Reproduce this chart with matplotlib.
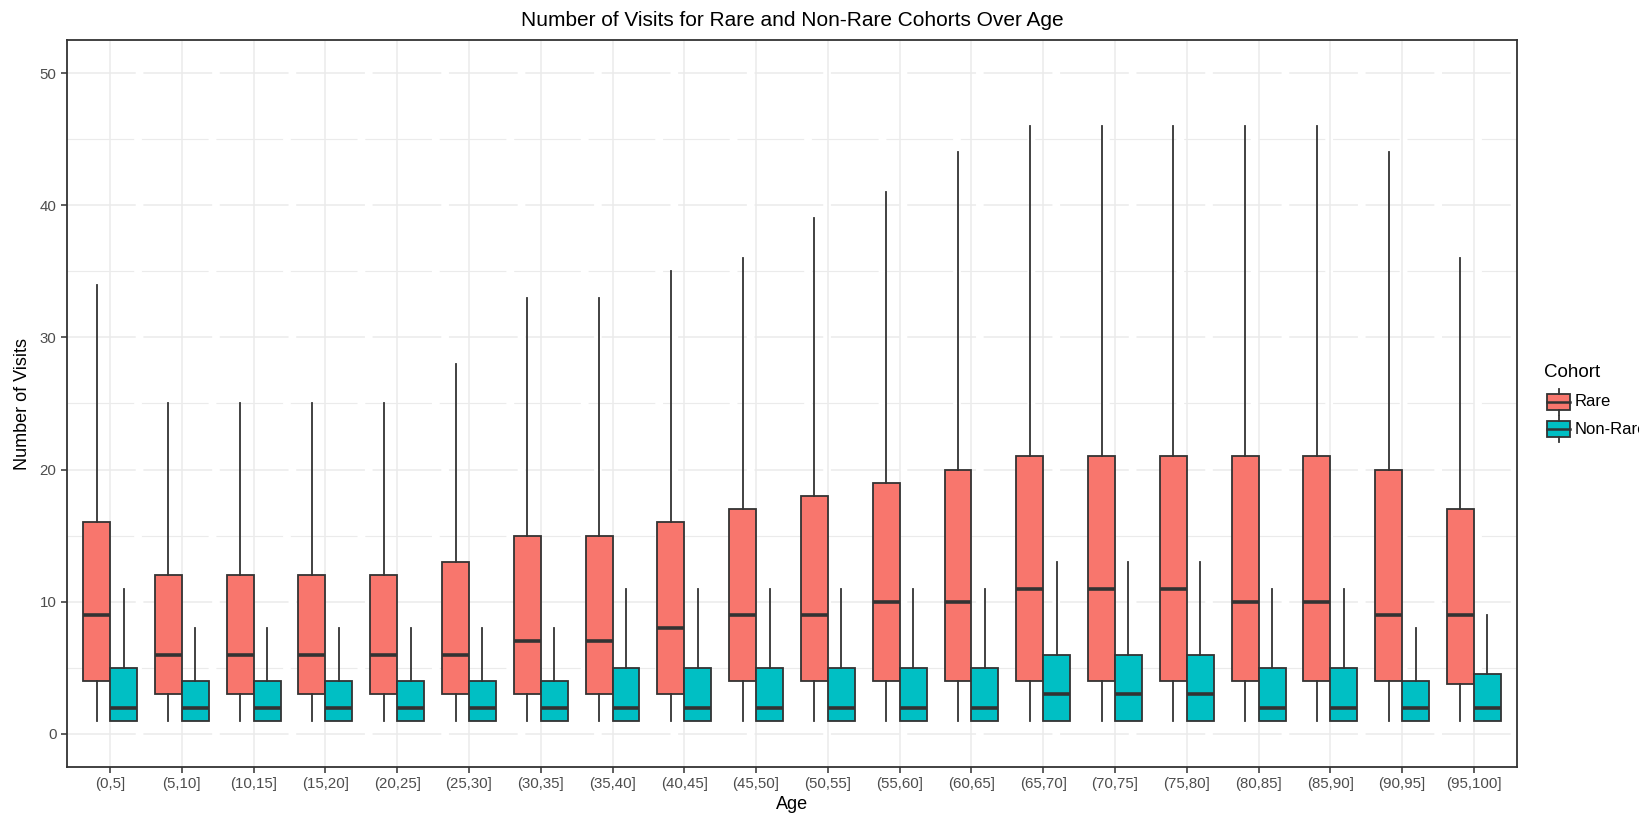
import matplotlib.pyplot as plt
import numpy as np
from matplotlib.patches import Rectangle

plt.rcParams['font.family'] = ['Liberation Sans', 'DejaVu Sans']

ages = ["(0,5]", "(5,10]", "(10,15]", "(15,20]", "(20,25]", "(25,30]", "(30,35]",
        "(35,40]", "(40,45]", "(45,50]", "(50,55]", "(55,60]", "(60,65]", "(65,70]",
        "(70,75]", "(75,80]", "(80,85]", "(85,90]", "(90,95]", "(95,100]"]

# Rare cohort: lower whisker, q1, median, q3, upper whisker
rare_lo = [1] * 20
rare_q1 = [4, 3, 3, 3, 3, 3, 3, 3, 3, 4, 4, 4, 4, 4, 4, 4, 4, 4, 4, 3.75]
rare_med = [9, 6, 6, 6, 6, 6, 7, 7, 8, 9, 9, 10, 10, 11, 11, 11, 10, 10, 9, 9]
rare_q3 = [16, 12, 12, 12, 12, 13, 15, 15, 16, 17, 18, 19, 20, 21, 21, 21, 21, 21, 20, 17]
rare_hi = [34, 25, 25, 25, 25, 28, 33, 33, 35, 36, 39, 41, 44, 46, 46, 46, 46, 46, 44, 36]

# Non-Rare cohort
non_lo = [1] * 20
non_q1 = [1] * 20
non_med = [2, 2, 2, 2, 2, 2, 2, 2, 2, 2, 2, 2, 2, 3, 3, 3, 2, 2, 2, 2]
non_q3 = [5, 4, 4, 4, 4, 4, 4, 5, 5, 5, 5, 5, 5, 6, 6, 6, 5, 5, 4, 4.5]
non_hi = [11, 8, 8, 8, 8, 8, 8, 11, 11, 11, 11, 11, 11, 13, 13, 13, 11, 11, 8, 9]

rare_col = "#F8766D"
non_col = "#00BFC4"
edge = "#333333"


def make_stats(lo, q1, med, q3, hi):
    return [dict(whislo=a, q1=b, med=c, q3=d, whishi=e, fliers=[])
            for a, b, c, d, e in zip(lo, q1, med, q3, hi)]


fig = plt.figure(figsize=(16.39, 8.17), dpi=100)
ax = fig.add_axes([67 / 1639, 1 - 767 / 817, 1450 / 1639, 727 / 817])

x = np.arange(len(ages))
w = 0.375

# grid
for v in np.arange(0, 51, 10):
    ax.axhline(v, color="#EBEBEB", lw=1.1, ls=(0, (45, 5)), zorder=0)
for v in np.arange(5, 50, 10):
    ax.axhline(v, color="#EBEBEB", lw=0.8, ls=(0, (60, 7)), zorder=0)
for xi in x:
    ax.axvline(xi, color="#EBEBEB", lw=1.1, zorder=0)

for stats, off, col in [(make_stats(rare_lo, rare_q1, rare_med, rare_q3, rare_hi), -w / 2, rare_col),
                        (make_stats(non_lo, non_q1, non_med, non_q3, non_hi), w / 2, non_col)]:
    ax.bxp(stats, positions=x + off, widths=w, showcaps=False, showfliers=False,
           patch_artist=True, manage_ticks=False,
           boxprops=dict(facecolor=col, edgecolor=edge, linewidth=1.3),
           whiskerprops=dict(color=edge, linewidth=1.3),
           medianprops=dict(color=edge, linewidth=2.6, solid_capstyle="butt"))

ax.set_xlim(-0.6, len(ages) - 0.4)
ax.set_ylim(-2.5, 52.5)
ax.set_xticks(x)
ax.set_xticklabels(ages)
ax.set_yticks(np.arange(0, 51, 10))
ax.tick_params(axis="both", colors="#333333", labelcolor="#4D4D4D", labelsize=10.8,
               length=4, width=1.1)
for s in ax.spines.values():
    s.set_color("#333333")
    s.set_linewidth(1.3)

ax.set_xlabel("Age", fontsize=13, labelpad=3)
ax.set_ylabel("Number of Visits", fontsize=13, labelpad=6)
ax.set_title("Number of Visits for Rare and Non-Rare Cohorts Over Age", fontsize=15, pad=10)

# legend
fig.text(1544 / 1639, 1 - 373 / 817, "Cohort", fontsize=13.5, va="center", ha="left")
for yc, col, name in [(402, rare_col, "Rare"), (429, non_col, "Non-Rare")]:
    yb = 1 - (yc + 8) / 817
    fig.patches.append(Rectangle((1547 / 1639, yb), 23 / 1639, 16 / 817, facecolor=col,
                                 edgecolor=edge, lw=1.3, transform=fig.transFigure))
    fig.add_artist(plt.Line2D([1547 / 1639, 1570 / 1639], [1 - yc / 817] * 2, color=edge, lw=1.8))
    fig.add_artist(plt.Line2D([1558.5 / 1639] * 2, [1 - (yc - 13) / 817, 1 - (yc - 8) / 817], color=edge, lw=1.3))
    fig.add_artist(plt.Line2D([1558.5 / 1639] * 2, [1 - (yc + 8) / 817, 1 - (yc + 13) / 817], color=edge, lw=1.3))
    fig.text(1575 / 1639, 1 - yc / 817, name, fontsize=12, va="center", ha="left")

fig.savefig("out.png", dpi=100)
